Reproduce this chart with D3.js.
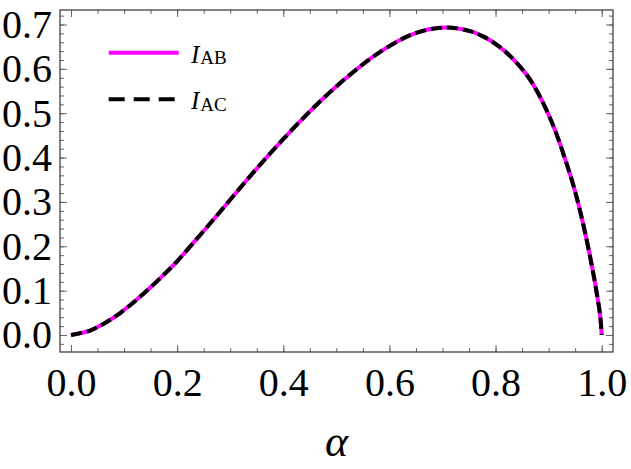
<!DOCTYPE html>
<html>
<head>
<meta charset="utf-8">
<script src="https://cdn.jsdelivr.net/npm/d3@7"></script>
<style>
  body { margin: 0; background: #fff; }
  svg { display: block; }
</style>
</head>
<body>
<div id="chart"></div>
<script>
// values
const alpha = [0, 0.036, 0.061, 0.092, 0.130, 0.168, 0.199, 0.243, 0.281, 0.331, 0.381, 0.444,
  0.494, 0.532, 0.570, 0.620, 0.658, 0.705, 0.752, 0.780, 0.805, 0.830, 0.859, 0.878, 0.896,
  0.912, 0.931, 0.947, 0.962, 0.975, 0.987, 0.997, 1.0];
const iAB = [0, 0.010, 0.025, 0.049, 0.086, 0.128, 0.165, 0.225, 0.278, 0.349, 0.417, 0.497,
  0.554, 0.593, 0.628, 0.665, 0.684, 0.693, 0.685, 0.671, 0.652, 0.626, 0.586, 0.550, 0.507,
  0.462, 0.397, 0.336, 0.266, 0.195, 0.120, 0.045, 0];
const iAC = [0, 0.010, 0.025, 0.049, 0.086, 0.128, 0.165, 0.225, 0.278, 0.349, 0.417, 0.497,
  0.554, 0.593, 0.628, 0.665, 0.684, 0.693, 0.685, 0.671, 0.652, 0.626, 0.586, 0.550, 0.507,
  0.462, 0.397, 0.336, 0.266, 0.195, 0.120, 0.045, 0];
const xTicks = [0, 0.2, 0.4, 0.6, 0.8, 1.0];
const yTicks = [0, 0.1, 0.2, 0.3, 0.4, 0.5, 0.6, 0.7];

const serif = "'Liberation Serif', 'Times New Roman', Times, 'DejaVu Serif', serif";
const width = 631, height = 469;
const frame = { left: 60, top: 10, right: 613, bottom: 352 };

const svg = d3.select("#chart")
  .append("svg")
    .attr("width", width)
    .attr("height", height);

const x = d3.scaleLinear().domain([0, 1]).range([71, 601.7]);
const y = d3.scaleLinear().domain([0, 0.7]).range([335, 24.5]);

const xMinor = d3.range(0, 1.0001, 0.05);
const yMinor = d3.range(-0.02, 0.7201, 0.02);

// minor ticks, all four sides
const minorAxes = [
  [d3.axisBottom(x).tickValues(xMinor), `translate(0,${frame.bottom})`],
  [d3.axisTop(x).tickValues(xMinor), `translate(0,${frame.top})`],
  [d3.axisLeft(y).tickValues(yMinor), `translate(${frame.left},0)`],
  [d3.axisRight(y).tickValues(yMinor), `translate(${frame.right},0)`]
];
minorAxes.forEach(([ax, tr]) => {
  const g = svg.append("g").attr("transform", tr)
    .call(ax.tickFormat("").tickSizeInner(-4).tickSizeOuter(0));
  g.select(".domain").remove();
});

// major ticks + labels
const xAxis = svg.append("g")
  .attr("transform", `translate(0,${frame.bottom})`)
  .call(d3.axisBottom(x).tickValues(xTicks).tickFormat(d3.format(".1f"))
    .tickSizeInner(-7).tickSizeOuter(0).tickPadding(16));
xAxis.select(".domain").remove();

const yAxis = svg.append("g")
  .attr("transform", `translate(${frame.left},0)`)
  .call(d3.axisLeft(y).tickValues(yTicks).tickFormat(d3.format(".1f"))
    .tickSizeInner(-7).tickSizeOuter(0).tickPadding(8));
yAxis.select(".domain").remove();

[[d3.axisTop(x).tickValues(xTicks), `translate(0,${frame.top})`],
 [d3.axisRight(y).tickValues(yTicks), `translate(${frame.right},0)`]].forEach(([ax, tr]) => {
  const g = svg.append("g").attr("transform", tr)
    .call(ax.tickFormat("").tickSizeInner(-7).tickSizeOuter(0));
  g.select(".domain").remove();
});
svg.selectAll(".tick line").attr("stroke", "#666");
svg.selectAll(".tick text")
  .attr("fill", "#000")
  .style("font-family", serif)
  .style("font-size", "40px");

// frame
svg.append("rect")
  .attr("x", frame.left)
  .attr("y", frame.top)
  .attr("width", frame.right - frame.left)
  .attr("height", frame.bottom - frame.top)
  .attr("fill", "none")
  .attr("stroke", "#333")
  .attr("stroke-width", 1.2);

// curves
const line = d3.line()
  .x(d => x(d[0]))
  .y(d => y(d[1]))
  .curve(d3.curveCatmullRom.alpha(0.5));

svg.append("path")
  .datum(alpha.map((a, i) => [a, iAB[i]]))
  .attr("d", line)
  .attr("fill", "none")
  .attr("stroke", "#ff00ff")
  .attr("stroke-width", 4);

svg.append("path")
  .datum(alpha.map((a, i) => [a, iAC[i]]))
  .attr("d", line)
  .attr("fill", "none")
  .attr("stroke", "#000")
  .attr("stroke-width", 4)
  .attr("stroke-dasharray", "11,5");

// x label
svg.append("text")
  .attr("x", (frame.left + frame.right) / 2)
  .attr("y", 456)
  .attr("text-anchor", "middle")
  .style("font-family", serif)
  .style("font-style", "italic")
  .style("font-size", "44px")
  .text("α");

// legend
const legend = [
  { name: "AB", color: "#ff00ff", dash: null, y: 52.7 },
  { name: "AC", color: "#000", dash: "16,9", y: 99.3 }
];
const lg = svg.selectAll("g.legend-item")
  .data(legend)
  .join("g")
  .attr("class", "legend-item")
  .attr("transform", d => `translate(0,${d.y})`);

lg.append("line")
  .attr("x1", 108.7)
  .attr("x2", 178.7)
  .attr("stroke", d => d.color)
  .attr("stroke-width", 4)
  .attr("stroke-dasharray", d => d.dash);

const lt = lg.append("text")
  .attr("x", 191)
  .attr("y", 10)
  .style("font-family", serif)
  .style("font-size", "25px");
lt.append("tspan")
  .style("font-style", "italic")
  .text("I");
lt.append("tspan")
  .attr("dx", 1)
  .attr("dy", 1.5)
  .style("font-size", "19px")
  .text(d => d.name);
</script>
</body>
</html>
